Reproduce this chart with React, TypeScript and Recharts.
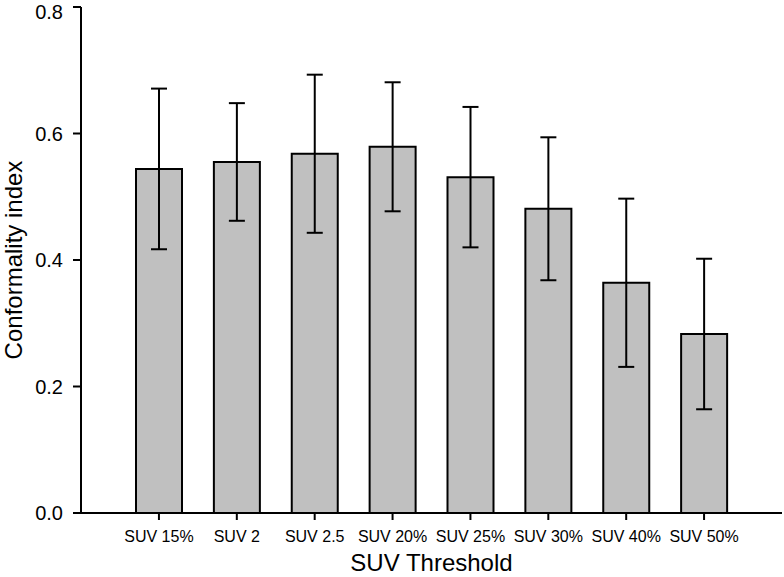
import React from 'react';
import { BarChart, Bar, XAxis, YAxis, ErrorBar } from 'recharts';

const categories = ['SUV 15%', 'SUV 2', 'SUV 2.5', 'SUV 20%', 'SUV 25%', 'SUV 30%', 'SUV 40%', 'SUV 50%'];
const meanValues = [0.544, 0.555, 0.568, 0.579, 0.531, 0.481, 0.364, 0.283];
const errorValues = [0.127, 0.093, 0.125, 0.102, 0.111, 0.113, 0.133, 0.119];
const yTicks = [0, 0.2, 0.4, 0.6, 0.8];

const data = categories.map((name, i) => ({ name, value: meanValues[i], err: errorValues[i] }));

const font = '"Liberation Sans", Arial, sans-serif';

const YTitle = ({ viewBox }: any) => {
  const cx = viewBox.x + 13;
  const cy = viewBox.y + viewBox.height / 2;
  return (
    <text x={cx} y={cy} transform={`rotate(-90 ${cx} ${cy})`} textAnchor="middle" dominantBaseline="central"
      fontSize={24} fontFamily={font} fill="#000">
      Conformality index
    </text>
  );
};

const XTitle = ({ viewBox }: any) => (
  <text x={viewBox.x + viewBox.width / 2} y={viewBox.y + viewBox.height - 6} textAnchor="middle"
    fontSize={24} fontFamily={font} fill="#000">
    SUV Threshold
  </text>
);

const App = () => (
  <div style={{ position: 'absolute', left: 0, top: 0, width: 784, height: 577, background: '#fff' }}>
    <BarChart width={784} height={577} data={data} margin={{ top: 7, right: 2, left: 0, bottom: 0 }}>
      <XAxis
        dataKey="name"
        height={64}
        padding={{ left: 39, right: 39 }}
        axisLine={{ stroke: '#000', strokeWidth: 2 }}
        tickLine={{ stroke: '#000', strokeWidth: 2 }}
        tickSize={7}
        tickMargin={11}
        tick={{ fontSize: 16, fontFamily: font, fill: '#000' }}
        interval={0}
        label={<XTitle />}
      />
      <YAxis
        width={81}
        domain={[0, 0.8]}
        ticks={yTicks}
        tickFormatter={(v: number) => v.toFixed(1)}
        axisLine={{ stroke: '#000', strokeWidth: 2 }}
        tickLine={{ stroke: '#000', strokeWidth: 2 }}
        tickSize={8}
        tickMargin={10}
        tick={{ fontSize: 20, fontFamily: font, fill: '#000' }}
        label={<YTitle />}
      />
      <Bar dataKey="value" fill="#c0c0c0" stroke="#000" strokeWidth={2} barSize={46} isAnimationActive={false}>
        <ErrorBar dataKey="err" direction="y" width={8} stroke="#000" strokeWidth={2} />
      </Bar>
    </BarChart>
  </div>
);

export default App;
